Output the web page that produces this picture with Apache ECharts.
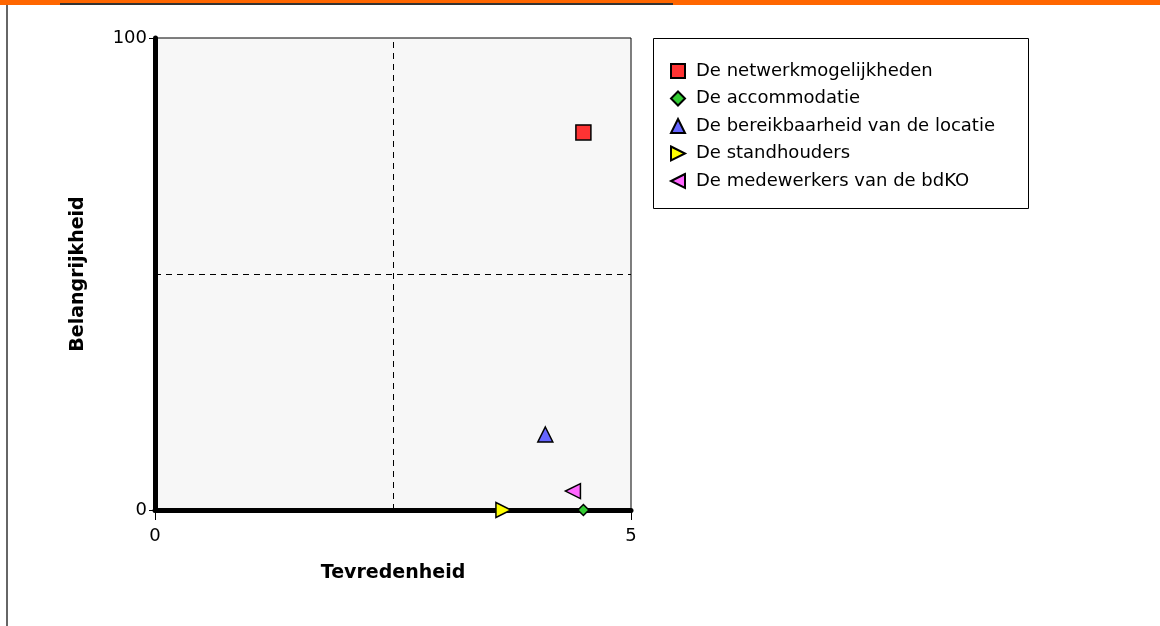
<!DOCTYPE html>
<html>
<head>
<meta charset="utf-8">
<script src="https://cdn.jsdelivr.net/npm/echarts@6/dist/echarts.min.js"></script>
<style>
  html, body { margin: 0; padding: 0; background: #fff; }
  #chart { width: 1160px; height: 626px; }
</style>
</head>
<body>
<div id="chart"></div>
<script>
// reeksen en waarden (tevredenheid, belangrijkheid)
var seriesNames = ['De netwerkmogelijkheden', 'De accommodatie', 'De bereikbaarheid van de locatie', 'De standhouders', 'De medewerkers van de bdKO'];
var tevredenheid = [4.5, 4.5, 4.1, 3.66, 4.39];
var belangrijkheid = [80, 0, 16, 0, 4];
var xTicks = [0, 5];
var yTicks = [0, 100];
var midX = 2.5, midY = 50;

var triRight = 'path://M0,0 L10,5 L0,10 Z';
var triLeft = 'path://M10,0 L0,5 L10,10 Z';
var symbols = ['rect', 'diamond', 'triangle', triRight, triLeft];
var sizes = [15, 11, 15, 15, 15];
var colors = ['#ff3333', '#33cc33', '#6666ff', '#ffff00', '#ff66ff'];

/**
 * tekent het kwadrantdiagram
 * @param id container id
 */
function initChart(id) {
    var chart = echarts.init(document.getElementById(id));
    var series = seriesNames.map(function (name, i) {
        return {
            name: name,
            type: 'scatter',
            data: [[tevredenheid[i], belangrijkheid[i]]],
            symbol: symbols[i],
            symbolSize: sizes[i],
            itemStyle: { color: colors[i], borderColor: '#000', borderWidth: 1.5, opacity: 1 },
            z: 5
        };
    });
    // kwadrantlijnen
    series.push({
        type: 'scatter',
        data: [],
        markLine: {
            silent: true,
            symbol: 'none',
            label: { show: false },
            lineStyle: { color: '#000', type: [6, 5], width: 1 },
            data: [{ xAxis: midX }, { yAxis: midY }]
        },
        z: 2
    });
    var option = {
        animation: false,
        textStyle: { fontFamily: 'DejaVu Sans', color: '#000' },
        graphic: [
            { type: 'rect', shape: { x: 0, y: 0, width: 1160, height: 5 }, style: { fill: '#ff6600' } },
            { type: 'rect', shape: { x: 60, y: 3, width: 613, height: 2 }, style: { fill: '#333' } },
            { type: 'rect', shape: { x: 6, y: 5, width: 2, height: 621 }, style: { fill: '#666' } },
            { type: 'rect', shape: { x: 653.5, y: 38.5, width: 375, height: 170 }, style: { fill: '#fff', stroke: '#000', lineWidth: 1 }, z: -1 }
        ],
        grid: {
            left: 155, top: 38, width: 476, height: 472,
            show: true, backgroundColor: '#f7f7f7', borderColor: '#000', borderWidth: 1
        },
        legend: {
            orient: 'vertical',
            left: 665, top: 57,
            itemWidth: 14, itemHeight: 14, itemGap: 9.5,
            textStyle: { fontSize: 18, lineHeight: 18, fontFamily: 'DejaVu Sans', color: '#000', padding: [0, 0, 0, 6] },
            data: seriesNames
        },
        xAxis: {
            type: 'value', min: 0, max: 5, interval: 5,
            name: 'Tevredenheid', nameLocation: 'middle', nameGap: 54,
            nameTextStyle: { fontWeight: 'bold', fontSize: 19, color: '#000' },
            axisLine: { show: true, onZero: false, lineStyle: { color: '#000', width: 5 } },
            axisTick: { show: true, length: 10, lineStyle: { color: '#000', width: 1 } },
            axisLabel: {
                fontSize: 18, color: '#000', margin: 17,
                formatter: function (v) { return xTicks.indexOf(v) >= 0 ? String(v) : ''; }
            },
            splitLine: { show: false }
        },
        yAxis: {
            type: 'value', min: 0, max: 100, interval: 100,
            name: 'Belangrijkheid', nameLocation: 'middle', nameGap: 67,
            nameTextStyle: { fontWeight: 'bold', fontSize: 19, color: '#000' },
            axisLine: { show: true, onZero: false, lineStyle: { color: '#000', width: 5 } },
            axisTick: { show: true, length: 6, lineStyle: { color: '#000', width: 1 } },
            axisLabel: {
                fontSize: 18, color: '#000', margin: 8,
                formatter: function (v) { return yTicks.indexOf(v) >= 0 ? String(v) : ''; }
            },
            splitLine: { show: false }
        },
        series: series
    };
    chart.setOption(option);
}

initChart('chart');
</script>
</body>
</html>
